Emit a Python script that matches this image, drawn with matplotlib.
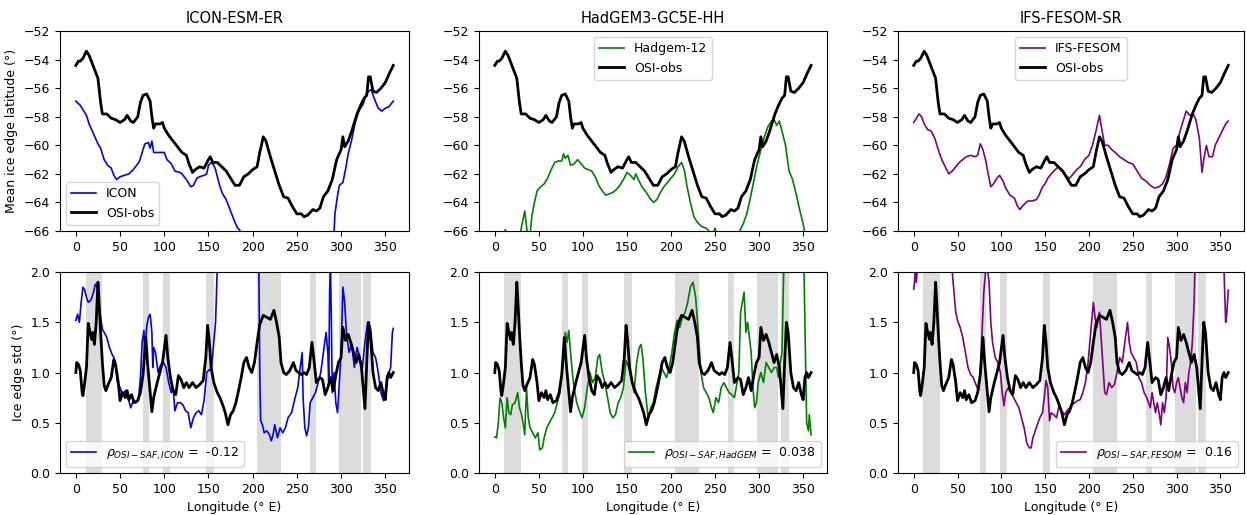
import numpy as np
import matplotlib
matplotlib.use("Agg")
import matplotlib.pyplot as plt

# ---------------- data ----------------
titles = ["ICON-ESM-ER", "HadGEM3-GC5E-HH", "IFS-FESOM-SR"]
model_names = ["ICON", "Hadgem-12", "IFS-FESOM"]
rho_names = ["ICON", "HadGEM", "FESOM"]
rho_values = ["-0.12", "0.038", "0.16"]
model_colors = ["blue", "green", "purple"]

# shaded longitude bands (deg E)
band_start = [11, 76, 99, 147, 205, 265, 298, 325]
band_end = [30, 83, 106, 156, 232, 272, 322, 334]

# OSI-obs mean ice edge latitude
obs_mean_lon = [0, 3, 5, 8, 12, 15, 20, 25, 28, 30, 35, 40, 45, 50, 55, 58, 62, 65, 70, 73,
                76, 80, 84, 86, 88, 90, 95, 98, 100, 105, 110, 115, 120, 125, 128, 132, 135,
                140, 145, 150, 152, 155, 160, 165, 170, 175, 180, 185, 190, 195, 200, 205,
                208, 212, 215, 220, 225, 230, 235, 240, 245, 250, 255, 258, 262, 265, 268,
                272, 276, 280, 285, 290, 295, 300, 302, 304, 308, 312, 315, 318, 322, 326,
                329, 331, 333, 336, 340, 345, 350, 355, 359]
obs_mean_lat = [-54.4, -54.1, -54.1, -53.9, -53.4, -53.7, -54.5, -55.3, -57.0, -57.8, -57.8,
                -58.1, -58.2, -58.4, -58.2, -57.9, -58.3, -58.4, -58.0, -57.0, -56.5, -56.4,
                -56.9, -58.0, -58.8, -58.5, -58.5, -58.4, -58.8, -59.3, -59.7, -60.1, -60.5,
                -60.7, -61.3, -61.9, -61.7, -61.5, -61.6, -61.0, -60.8, -61.2, -61.2, -61.5,
                -61.8, -62.3, -62.8, -62.8, -62.2, -62.0, -61.7, -61.5, -60.5, -59.4, -59.7,
                -60.8, -61.8, -62.8, -63.6, -63.7, -64.3, -64.8, -64.8, -65.0, -64.9, -64.7,
                -64.5, -64.6, -64.4, -63.6, -63.2, -62.4, -61.0, -60.3, -59.4, -60.1, -59.7,
                -59.0, -58.4, -57.8, -57.2, -56.7, -56.5, -55.2, -55.2, -56.2, -56.3, -56.0,
                -55.6, -54.9, -54.4]

# ICON mean ice edge latitude
icon_mean_lon = [0, 5, 8, 12, 15, 20, 25, 28, 32, 36, 40, 43, 46, 50, 55, 60, 65, 70, 72, 75,
                 78, 82, 84, 86, 88, 92, 95, 100, 103, 108, 112, 118, 120, 125, 130, 133, 137,
                 140, 145, 148, 150, 153, 156, 158, 160, 163, 166, 170, 175, 180, 183, 185,
                 187, 200, 230, 260, 285, 292, 293, 296, 298, 302, 305, 308, 312, 316, 320,
                 325, 328, 331, 334, 338, 342, 346, 350, 354, 359]
icon_mean_lat = [-56.9, -57.2, -57.5, -57.9, -58.5, -59.2, -59.9, -60.2, -61.0, -61.4, -61.6,
                 -62.1, -62.4, -62.2, -62.1, -62.0, -61.7, -61.3, -61.1, -60.5, -59.9, -59.8,
                 -60.2, -59.7, -60.5, -60.5, -60.5, -60.5, -61.0, -61.3, -61.8, -61.9, -62.0,
                 -62.4, -62.9, -62.8, -62.3, -62.2, -62.1, -62.0, -61.4, -61.2, -61.4, -61.7,
                 -62.2, -62.9, -63.4, -63.8, -64.6, -65.4, -65.8, -65.9, -66.2, -67.5, -69.0,
                 -69.0, -67.5, -66.2, -64.8, -63.5, -62.8, -62.6, -61.7, -60.6, -59.6, -58.4,
                 -57.6, -57.1, -56.5, -56.2, -56.1, -56.8, -57.4, -57.6, -57.4, -57.3, -56.9]

# HadGEM mean ice edge latitude
had_mean_lon = [0, 10, 12, 14, 20, 28, 30, 34, 37, 40, 42, 45, 48, 52, 56, 60, 64, 68, 72, 76,
                78, 80, 83, 86, 90, 94, 98, 102, 106, 110, 114, 118, 122, 126, 130, 134, 138,
                142, 146, 150, 154, 158, 160, 163, 167, 172, 176, 180, 184, 188, 192, 196, 200,
                204, 208, 212, 215, 218, 222, 226, 230, 235, 240, 243, 247, 250, 252, 260, 270,
                278, 282, 286, 290, 294, 298, 302, 306, 310, 314, 317, 320, 323, 326, 330, 334,
                338, 342, 346, 350, 352, 359]
had_mean_lat = [-67.0, -66.3, -65.9, -66.3, -67.0, -66.5, -65.8, -64.6, -66.2, -66.3, -65.0,
                -64.0, -63.2, -62.9, -62.7, -62.3, -61.7, -61.2, -61.1, -61.1, -60.6, -60.9,
                -60.7, -61.4, -61.3, -61.0, -61.3, -61.6, -61.7, -61.8, -62.2, -62.8, -63.2,
                -63.5, -63.4, -63.3, -63.1, -62.8, -62.4, -61.9, -62.1, -62.4, -62.0, -62.4,
                -62.9, -63.3, -63.7, -64.0, -63.8, -63.3, -62.9, -62.6, -62.3, -62.0, -61.5,
                -61.2, -61.7, -62.8, -64.0, -65.0, -65.4, -65.7, -65.8, -66.0, -66.4, -65.8,
                -66.3, -67.5, -67.5, -66.0, -65.5, -64.8, -63.7, -62.5, -61.3, -60.3, -59.4,
                -58.7, -58.3, -58.2, -58.6, -58.3, -59.0, -60.0, -61.8, -62.4, -63.4, -64.5,
                -65.5, -66.2, -68.0]

# IFS-FESOM mean ice edge latitude
ifs_mean_lon = [0, 3, 6, 9, 12, 16, 20, 24, 28, 32, 36, 40, 44, 48, 52, 56, 60, 65, 70, 73, 76,
                79, 82, 85, 88, 91, 95, 98, 102, 105, 110, 115, 118, 121, 125, 130, 135, 140,
                143, 147, 150, 153, 157, 160, 165, 170, 175, 178, 182, 186, 190, 195, 200, 204,
                208, 212, 215, 218, 222, 226, 230, 235, 240, 245, 250, 255, 260, 265, 270, 275,
                280, 284, 288, 292, 296, 300, 304, 308, 311, 315, 319, 322, 326, 329, 331, 334,
                337, 341, 344, 348, 352, 356, 359]
ifs_mean_lat = [-58.4, -58.1, -57.8, -58.0, -58.5, -58.9, -59.0, -59.5, -60.3, -61.0, -61.5,
                -62.0, -61.8, -61.5, -61.2, -61.0, -60.8, -60.7, -60.8, -60.7, -59.9, -60.3,
                -61.0, -62.0, -62.9, -62.7, -62.3, -62.1, -62.5, -63.0, -63.5, -63.7, -64.2,
                -64.5, -64.2, -63.9, -63.9, -63.8, -63.5, -62.9, -62.7, -62.3, -62.0, -61.8,
                -61.5, -61.8, -62.2, -62.3, -62.0, -61.7, -61.5, -61.0, -60.7, -60.0, -59.0,
                -57.9, -59.0, -60.0, -60.0, -60.3, -60.5, -60.8, -61.0, -61.2, -61.3, -61.8,
                -62.3, -62.5, -62.8, -63.0, -62.9, -62.7, -62.2, -61.3, -60.2, -60.0, -59.0,
                -58.2, -57.6, -57.9, -57.8, -58.2, -59.5, -61.9, -61.0, -60.0, -60.8, -60.8,
                -60.0, -59.5, -59.0, -58.5, -58.3]

# OSI-obs ice edge std
obs_std_lon = [0, 1, 3, 5, 7, 8, 10, 12, 14, 16, 18, 19, 21, 23, 25, 26, 28, 30, 32, 34, 36,
               40, 43, 45, 48, 50, 53, 56, 58, 60, 63, 66, 70, 73, 76, 79, 81, 84, 86, 88, 92,
               95, 98, 102, 104, 107, 110, 113, 116, 119, 122, 125, 128, 132, 136, 140, 144,
               147, 149, 151, 153, 156, 160, 163, 166, 169, 172, 175, 178, 181, 184, 187, 190,
               193, 196, 199, 202, 205, 208, 212, 216, 220, 224, 227, 230, 232, 235, 238, 242,
               246, 249, 252, 255, 258, 261, 264, 267, 269, 272, 276, 279, 282, 285, 288, 291,
               294, 297, 300, 302, 305, 308, 311, 314, 317, 320, 323, 325, 327, 329, 331, 333,
               336, 339, 342, 345, 348, 350, 352, 354, 356, 359]
obs_std = [1.00, 1.10, 1.08, 1.02, 0.81, 0.77, 0.90, 1.05, 1.49, 1.40, 1.33, 1.40, 1.28, 1.50,
           1.90, 1.75, 1.40, 1.10, 0.87, 0.82, 0.87, 0.95, 1.13, 1.08, 0.90, 0.72, 0.80, 0.75,
           0.82, 0.73, 0.78, 0.70, 0.72, 0.80, 0.98, 1.35, 1.10, 0.80, 0.61, 0.75, 0.90, 1.00,
           1.10, 1.37, 1.15, 0.95, 0.82, 0.78, 0.97, 0.93, 0.85, 0.90, 0.85, 0.90, 0.85, 0.88,
           0.92, 1.15, 1.47, 1.30, 1.05, 0.90, 0.80, 0.75, 0.68, 0.60, 0.48, 0.58, 0.62, 0.70,
           0.82, 0.95, 1.10, 1.15, 1.05, 1.00, 1.10, 1.30, 1.48, 1.57, 1.55, 1.53, 1.62, 1.50,
           1.35, 1.10, 1.00, 0.98, 1.02, 1.10, 1.02, 1.00, 0.98, 1.00, 0.98, 1.05, 1.30, 1.15,
           0.90, 0.95, 0.93, 0.78, 0.85, 0.95, 0.82, 0.97, 1.10, 1.15, 1.45, 1.32, 1.38, 1.30,
           1.20, 1.10, 1.18, 1.05, 0.85, 0.64, 1.10, 1.50, 1.40, 1.00, 0.85, 0.82, 0.90, 0.78,
           0.73, 0.95, 1.00, 0.95, 1.00]

# ICON ice edge std
icon_std_lon = [0, 2, 4, 6, 8, 10, 12, 14, 17, 20, 22, 24, 26, 28, 30, 32, 35, 38, 41, 43, 45,
                47, 50, 53, 56, 59, 62, 65, 68, 71, 73, 75, 77, 78, 80, 82, 84, 86, 87, 88, 90,
                93, 96, 99, 102, 105, 108, 110, 112, 115, 118, 121, 124, 127, 130, 133, 136,
                139, 142, 145, 148, 151, 153, 156, 158, 160, 162, 170, 205, 207, 208, 209, 211,
                213, 216, 219, 221, 223, 225, 228, 231, 234, 237, 240, 244, 248, 251, 253, 256,
                257, 259, 261, 263, 265, 268, 271, 274, 277, 280, 283, 285, 286, 287, 288, 289,
                290, 292, 294, 296, 298, 300, 302, 304, 306, 309, 312, 315, 318, 321, 324, 327,
                330, 333, 336, 339, 342, 345, 348, 351, 354, 356, 358, 359]
icon_std = [1.52, 1.58, 1.50, 1.70, 1.85, 1.82, 1.75, 1.70, 1.72, 1.80, 1.88, 1.85, 1.70, 1.55,
            1.43, 1.40, 1.35, 1.25, 1.18, 1.15, 1.05, 0.90, 0.85, 0.78, 0.82, 0.75, 0.65, 0.72,
            0.70, 0.75, 0.95, 1.30, 1.42, 1.20, 1.45, 1.55, 1.58, 1.40, 1.05, 1.25, 1.20, 1.00,
            1.08, 1.10, 1.05, 0.90, 0.80, 0.85, 0.62, 0.70, 0.70, 0.68, 0.62, 0.60, 0.45, 0.55,
            0.60, 0.62, 0.58, 0.72, 1.00, 1.03, 1.02, 1.30, 1.50, 2.05, 2.50, 2.80, 2.80, 2.00,
            1.00, 0.52, 0.48, 0.40, 0.42, 0.38, 0.32, 0.38, 0.48, 0.35, 0.45, 0.40, 0.45, 0.55,
            0.60, 0.75, 0.85, 1.00, 1.20, 0.75, 0.45, 0.37, 0.45, 0.70, 0.75, 0.80, 0.90, 1.00,
            1.20, 1.40, 1.20, 0.90, 1.80, 2.05, 1.50, 0.80, 1.00, 0.70, 0.60, 0.90, 1.20, 1.85,
            1.70, 1.40, 1.20, 1.28, 1.05, 1.25, 1.15, 1.05, 1.30, 1.50, 1.45, 1.20, 1.15, 1.00,
            0.80, 0.72, 0.85, 1.00, 1.05, 1.40, 1.44]

# HadGEM ice edge std
had_std_lon = [0, 2, 4, 6, 8, 10, 12, 14, 16, 18, 20, 23, 26, 28, 30, 32, 34, 36, 38, 40, 43,
               46, 49, 51, 54, 56, 59, 62, 65, 68, 71, 74, 77, 80, 82, 84, 86, 88, 90, 93, 96,
               99, 102, 105, 108, 111, 114, 117, 119, 122, 125, 128, 131, 134, 137, 140, 143,
               146, 149, 152, 155, 158, 161, 164, 166, 168, 171, 174, 177, 180, 183, 186, 189,
               192, 195, 198, 201, 204, 207, 210, 213, 216, 219, 222, 225, 228, 231, 234, 237,
               240, 243, 246, 248, 251, 254, 257, 260, 263, 266, 269, 272, 275, 277, 279, 281,
               283, 285, 287, 289, 291, 293, 295, 297, 299, 302, 305, 308, 311, 314, 317, 320,
               322, 324, 326, 328, 330, 350, 351, 353, 354, 356, 357, 359]
had_std = [0.36, 0.35, 0.50, 0.75, 0.70, 0.55, 0.45, 0.75, 0.60, 0.58, 0.68, 0.70, 0.80, 0.65,
           0.60, 0.50, 0.38, 0.85, 0.55, 0.45, 0.40, 0.35, 0.40, 0.23, 0.25, 0.35, 0.45, 0.50,
           0.55, 0.60, 0.70, 0.80, 1.05, 1.40, 1.30, 1.42, 1.20, 1.00, 0.85, 0.70, 0.62, 0.55,
           0.65, 0.85, 1.00, 0.90, 0.95, 1.15, 1.18, 1.00, 0.90, 0.75, 0.60, 0.55, 0.58, 0.70,
           0.75, 0.85, 1.12, 1.05, 0.95, 0.80, 1.10, 1.25, 1.28, 1.15, 0.80, 0.55, 0.65, 0.70,
           0.85, 0.95, 1.05, 1.00, 0.95, 1.05, 1.20, 1.40, 1.52, 1.45, 1.55, 1.60, 1.70, 1.85,
           1.90, 1.75, 1.40, 1.00, 0.85, 0.80, 0.75, 0.65, 0.60, 0.75, 0.70, 0.85, 0.90, 0.85,
           0.80, 0.78, 0.75, 0.90, 1.00, 1.60, 1.70, 1.80, 1.40, 1.50, 1.35, 1.20, 0.85, 0.65,
           0.70, 0.90, 1.00, 0.90, 1.10, 1.05, 1.00, 1.05, 1.05, 0.95, 1.10, 1.20, 2.05, 3.00,
           3.00, 2.00, 1.00, 0.50, 0.42, 0.58, 0.38]

# IFS-FESOM ice edge std
ifs_std_lon = [0, 1, 2, 3, 4, 5, 20, 44, 46, 48, 50, 53, 56, 59, 62, 65, 68, 71, 74, 76, 78,
               80, 82, 84, 86, 88, 90, 93, 96, 99, 101, 103, 105, 108, 111, 114, 117, 120, 123,
               126, 129, 132, 134, 136, 138, 141, 144, 147, 149, 151, 153, 155, 157, 160, 163,
               166, 169, 172, 175, 178, 181, 184, 187, 190, 193, 196, 199, 202, 205, 207, 209,
               212, 215, 218, 220, 223, 226, 229, 232, 235, 238, 241, 244, 246, 248, 251, 254,
               257, 260, 263, 266, 268, 270, 272, 274, 276, 278, 280, 282, 284, 286, 288, 290,
               292, 294, 296, 298, 300, 302, 304, 306, 308, 310, 312, 314, 316, 318, 320, 321,
               323, 340, 354, 356, 357, 359]
ifs_std = [1.83, 1.90, 2.05, 1.90, 2.00, 2.20, 3.00, 2.00, 1.80, 1.60, 1.52, 1.45, 1.35, 1.20,
           1.05, 0.98, 0.95, 0.88, 0.82, 1.00, 1.40, 1.80, 2.00, 2.05, 1.90, 1.50, 1.30, 1.15,
           1.10, 1.00, 0.80, 0.67, 0.80, 0.85, 0.80, 0.75, 0.70, 0.65, 0.55, 0.45, 0.30, 0.25,
           0.25, 0.35, 0.40, 0.48, 0.55, 0.60, 0.75, 0.92, 0.85, 0.52, 0.60, 0.58, 0.55, 0.68,
           0.62, 0.58, 0.62, 0.65, 0.68, 0.70, 0.72, 0.73, 0.80, 0.90, 1.10, 1.40, 1.70, 1.55,
           1.45, 1.60, 1.20, 0.80, 0.78, 0.90, 0.85, 0.88, 1.00, 1.15, 1.10, 1.30, 1.50, 1.30,
           1.20, 1.15, 1.10, 0.95, 0.90, 0.80, 0.75, 0.70, 0.65, 0.80, 0.70, 0.60, 0.70, 0.60,
           0.48, 0.70, 0.60, 0.75, 1.35, 1.25, 1.10, 0.85, 0.80, 0.90, 0.95, 0.85, 0.75, 0.70,
           0.90, 0.80, 1.00, 1.10, 1.30, 1.70, 2.05, 3.00, 3.00, 2.05, 1.50, 1.55, 1.82]

mean_lons = [icon_mean_lon, had_mean_lon, ifs_mean_lon]
mean_lats = [icon_mean_lat, had_mean_lat, ifs_mean_lat]
std_lons = [icon_std_lon, had_std_lon, ifs_std_lon]
std_vals = [icon_std, had_std, ifs_std]

# ---------------- figure ----------------
plt.rcParams['font.family'] = ['DejaVu Sans']
plt.rcParams['font.size'] = 9

fig = plt.figure(figsize=(12.47, 5.15), dpi=100)
lefts = [0.0481, 0.3841, 0.7201]
widths = [0.280, 0.279, 0.2775]
top_y, top_h = 0.5515, 0.388
bot_y, bot_h = 0.0816, 0.390

top_legend_loc = ["lower left", "upper center", "upper center"]
bot_legend_loc = ["lower left", "lower right", "lower right"]

for i in range(3):
    ax = fig.add_axes([lefts[i], top_y, widths[i], top_h])
    ax.plot(mean_lons[i], mean_lats[i], color=model_colors[i], lw=1.2, label=model_names[i])
    ax.plot(obs_mean_lon, obs_mean_lat, color='black', lw=2.0, label='OSI-obs')
    ax.set_ylim(-66, -52)
    ax.set_xlim(-17.95, 376.95)
    ax.set_xticks(np.arange(0, 351, 50))
    ax.set_yticks(np.arange(-66, -51, 2))
    ax.set_title(titles[i], fontsize=10.5)
    ax.tick_params(labelsize=9)
    if i == 0:
        ax.set_ylabel('Mean ice edge latitude (°)', fontsize=9)
    ax.legend(loc=top_legend_loc[i], fontsize=9)

    axb = fig.add_axes([lefts[i], bot_y, widths[i], bot_h])
    for s, e in zip(band_start, band_end):
        axb.axvspan(s, e, color='#dcdcdc', lw=0, zorder=0)
    axb.plot(std_lons[i], std_vals[i], color=model_colors[i], lw=1.2,
             label=r'$\rho_{OSI-SAF,' + rho_names[i] + r'}$ =  ' + rho_values[i])
    axb.plot(obs_std_lon, obs_std, color='black', lw=2.0)
    axb.set_ylim(0, 2)
    axb.set_xlim(-17.95, 376.95)
    axb.set_xticks(np.arange(0, 351, 50))
    axb.set_yticks([0.0, 0.5, 1.0, 1.5, 2.0])
    axb.tick_params(labelsize=9)
    axb.set_xlabel('Longitude (° E)', fontsize=9)
    if i == 0:
        axb.set_ylabel('Ice edge std (°)', fontsize=9)
    axb.legend(loc=bot_legend_loc[i], fontsize=9)

fig.savefig('out.png', dpi=100)
